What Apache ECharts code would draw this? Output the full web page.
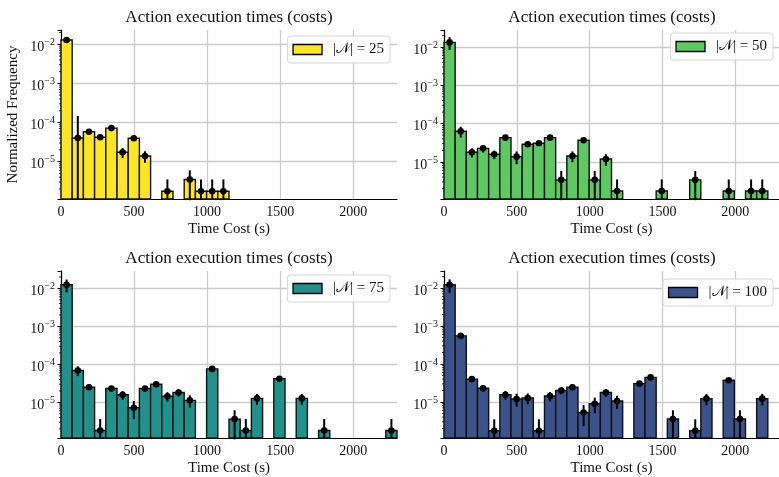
<!DOCTYPE html>
<html><head><meta charset="utf-8">
<script src="https://cdn.jsdelivr.net/npm/echarts@6/dist/echarts.min.js"></script>
<style>html,body{margin:0;padding:0;background:#fff}#c{width:779px;height:477px}</style>
</head><body><div id="c"></div>
<script>
// ---- data ----
const X_MIN = 0;
const X_MAX = 2300;
const BIN_COUNT = 30;
const xTickLabels = ['0', '500', '1000', '1500', '2000'];
const yTickLabels = ['10^-5', '10^-4', '10^-3', '10^-2'];
const titleText = 'Action execution times (costs)';
const xName = 'Time Cost (s)';
const yName = 'Normalized Frequency';
const seriesNames = ['|𝒩| = 25', '|𝒩| = 50', '|𝒩| = 75', '|𝒩| = 100'];
const seriesColors = ['#fde725', '#5ec962', '#21918c', '#3b528b'];

const values25 = [0.0129, 4.0e-5, 5.8e-5, 4.2e-5, 7.2e-5, 1.73e-5, 3.94e-5, 1.39e-5, 0, 1.75e-6,
  0, 3.5e-6, 1.75e-6, 1.75e-6, 1.75e-6, 0, 0, 0, 0, 0,
  0, 0, 0, 0, 0, 0, 0, 0, 0, 0];
const errors25 = [0.0009, 1.07e-4, 4e-6, 3e-6, 4e-6, 5e-6, 3e-6, 4.5e-6, 0, 1.75e-6,
  0, 2.47e-6, 1.75e-6, 1.75e-6, 1.75e-6, 0, 0, 0, 0, 0,
  0, 0, 0, 0, 0, 0, 0, 0, 0, 0];

const values50 = [0.0132, 6.3e-5, 1.78e-5, 2.26e-5, 1.58e-5, 4.3e-5, 1.37e-5, 2.88e-5, 3.06e-5, 4.3e-5,
  3.4e-6, 1.43e-5, 3.66e-5, 3.4e-6, 1.19e-5, 1.74e-6, 0, 0, 0, 1.74e-6,
  0, 0, 3.4e-6, 0, 0, 1.74e-6, 0, 1.74e-6, 1.74e-6, 0];
const errors50 = [0.0048, 2e-5, 4.8e-6, 5e-6, 4e-6, 3e-6, 5e-6, 4e-6, 4e-6, 3e-6,
  2.4e-6, 4.5e-6, 4e-6, 2.4e-6, 4e-6, 1.74e-6, 0, 0, 0, 1.74e-6,
  0, 0, 2.4e-6, 0, 0, 1.74e-6, 0, 1.74e-6, 1.74e-6, 0];

const values75 = [0.0125, 6.9e-5, 2.5e-5, 1.82e-6, 2.31e-5, 1.58e-5, 7.2e-6, 2.31e-5, 2.99e-5, 1.45e-5,
  1.82e-5, 1.13e-5, 0, 7.6e-5, 0, 3.63e-6, 1.82e-6, 1.27e-5, 0, 4.18e-5,
  0, 1.27e-5, 0, 1.82e-6, 0, 0, 0, 0, 0, 1.82e-6];
const errors75 = [0.0046, 2e-5, 4e-6, 1.82e-6, 4e-6, 4e-6, 3.6e-6, 4e-6, 3e-6, 4e-6,
  4e-6, 4e-6, 0, 3e-6, 0, 2.57e-6, 1.82e-6, 4e-6, 0, 2e-6,
  0, 4e-6, 0, 1.82e-6, 0, 0, 0, 0, 0, 1.82e-6];

const values100 = [0.0122, 5.5e-4, 4.0e-5, 2.3e-5, 1.75e-6, 1.55e-5, 1.2e-5, 1.27e-5, 1.75e-6, 1.43e-5,
  2.0e-5, 2.44e-5, 5.3e-6, 9.0e-6, 1.77e-5, 1.06e-5, 0, 3.03e-5, 4.43e-5, 0,
  3.55e-6, 0, 1.75e-6, 1.22e-5, 0, 3.72e-5, 3.55e-6, 0, 1.22e-5, 0];
const errors100 = [0.0047, 1.5e-5, 3e-6, 4e-6, 1.75e-6, 4e-6, 4.5e-6, 4e-6, 1.75e-6, 4e-6,
  4e-6, 4e-6, 3e-6, 4e-6, 4e-6, 4e-6, 0, 3e-6, 2e-6, 0,
  2.5e-6, 0, 1.75e-6, 4e-6, 0, 3e-6, 2.5e-6, 0, 4e-6, 0];

// y-axis limits per panel
const yMins = [1.106e-6, 1.074e-6, 1.153e-6, 1.125e-6];
const yMaxs = [0.0232, 0.0278, 0.0287, 0.0280];

const allValues = [values25, values50, values75, values100];
const allErrors = [errors25, errors50, errors75, errors100];

// ---- layout ----
const FONT = '"Liberation Serif", "DejaVu Serif", serif';
const grids = [
  {left: 61, top: 30, width: 336, height: 169},
  {left: 444, top: 30, width: 336, height: 169},
  {left: 61, top: 271, width: 336, height: 170},
  {left: 444, top: 271, width: 336, height: 170}
];
const legendPos = [
  {right: 779 - 390, top: 36},
  {right: 779 - 773, top: 33},
  {right: 779 - 390, top: 275},
  {right: 779 - 773, top: 279}
];

const binW = (X_MAX - X_MIN) / BIN_COUNT;

const option = {
  animation: false,
  backgroundColor: '#fff',
  grid: grids.map(g => Object.assign({containLabel: false}, g)),
  title: grids.map(g => ({
    text: titleText,
    left: g.left + g.width / 2 - 5,
    top: g.top - 26,
    textAlign: 'center',
    textStyle: {fontFamily: FONT, fontSize: 17, fontWeight: 'normal', color: '#111'}
  })),
  legend: grids.map((g, i) => Object.assign({
    data: [{name: seriesNames[i]}],
    icon: 'rect',
    itemWidth: 29, itemHeight: 10,
    itemStyle: {borderColor: '#000', borderWidth: 1.3},
    backgroundColor: 'rgba(255,255,255,0.85)',
    borderColor: '#d6d6d6', borderWidth: 1, borderRadius: 3,
    padding: [6, 6, 6, 5],
    selectedMode: false,
    textStyle: {fontFamily: FONT, fontSize: 15, color: '#111', padding: [0, 0, 0, 6]}
  }, legendPos[i])),
  xAxis: grids.map((g, i) => ({
    type: 'value', gridIndex: i, min: X_MIN, max: X_MAX, interval: 500,
    name: xName, nameLocation: 'middle', nameGap: 23,
    nameTextStyle: {fontFamily: FONT, fontSize: 15, color: '#111'},
    axisLine: {show: true, onZero: false, lineStyle: {color: '#000', width: 1.2}},
    axisTick: {show: false},
    axisLabel: {
      fontFamily: FONT, fontSize: 14, color: '#111', margin: 6, showMaxLabel: false,
      formatter: v => { const k = xTickLabels.indexOf(String(v)); return k >= 0 ? xTickLabels[k] : ''; }
    },
    splitLine: {show: true, showMaxLine: false, lineStyle: {color: '#cbcbcb', width: 1.3}}
  })),
  yAxis: grids.map((g, i) => ({
    type: 'log', logBase: 10, gridIndex: i, min: yMins[i], max: yMaxs[i],
    name: i === 0 ? yName : '', nameLocation: 'middle', nameGap: 40, nameRotate: 90,
    nameTextStyle: {fontFamily: FONT, fontSize: 15, color: '#111'},
    axisLine: {show: true, lineStyle: {color: '#000', width: 1.2}},
    axisTick: {show: true, length: 3.5, lineStyle: {color: '#000', width: 1}},
    minorTick: {show: false},
    axisLabel: {
      margin: 6, color: '#111',
      formatter: v => {
        const e = Math.log10(v), r = Math.round(e);
        if (Math.abs(e - r) > 1e-6) return '';
        const s = '10^' + r;
        if (yTickLabels.indexOf(s) < 0) return '';
        return '{b|10}{s|−' + (-r) + '}';
      },
      rich: {
        b: {fontFamily: FONT, fontSize: 14, color: '#111', padding: [6, 0, 0, 0]},
        s: {fontFamily: FONT, fontSize: 10, color: '#111', padding: [0, 0, 4, 0]}
      }
    },
    splitLine: {show: true, showMinLine: false, showMaxLine: false, lineStyle: {color: '#cbcbcb', width: 1.3}}
  })),
  series: []
};

allValues.forEach((vals, i) => {
  const errs = allErrors[i];
  const bars = [], errData = [];
  vals.forEach((v, k) => {
    if (v > 0) {
      const x0 = X_MIN + k * binW;
      bars.push([x0, x0 + binW, v]);
      const lo = v - errs[k] > 0 ? v - errs[k] : yMins[i];
      errData.push([x0 + binW / 2, v, lo, v + errs[k]]);
    }
  });
  const yMin = yMins[i];
  option.series.push({
    name: seriesNames[i], type: 'custom', xAxisIndex: i, yAxisIndex: i,
    itemStyle: {color: seriesColors[i], borderColor: '#000', borderWidth: 1.3},
    encode: {x: [0, 1], y: 2},
    data: bars,
    renderItem: (params, api) => {
      const p0 = api.coord([api.value(0), api.value(2)]);
      const p1 = api.coord([api.value(1), yMin]);
      return {type: 'rect',
        shape: {x: p0[0], y: p0[1], width: p1[0] - p0[0], height: p1[1] - p0[1]},
        style: {fill: seriesColors[i], stroke: '#111', lineWidth: 1.4}};
    }
  });
  option.series.push({
    name: 'err' + i, type: 'custom', xAxisIndex: i, yAxisIndex: i, z: 5,
    encode: {x: 0, y: [1, 2, 3]},
    data: errData,
    renderItem: (params, api) => {
      const c = api.coord([api.value(0), api.value(1)]);
      const lo = api.coord([api.value(0), api.value(2)]);
      const hi = api.coord([api.value(0), api.value(3)]);
      return {type: 'group', children: [
        {type: 'line', shape: {x1: lo[0], y1: lo[1], x2: hi[0], y2: hi[1]}, style: {stroke: '#000', lineWidth: 2}},
        {type: 'circle', shape: {cx: c[0], cy: c[1], r: 3.3}, style: {fill: '#000'}}
      ]};
    }
  });
  // minor ticks of the log axis (2..9 x 10^n)
  const minor = [];
  for (let n = -7; n <= -1; n++) for (let m = 2; m <= 9; m++) {
    const val = m * Math.pow(10, n);
    if (val > yMins[i] && val < yMaxs[i]) minor.push([0, val]);
  }
  option.series.push({
    name: 'minor' + i, type: 'custom', xAxisIndex: i, yAxisIndex: i, silent: true,
    encode: {x: 0, y: 1}, data: minor,
    renderItem: (params, api) => {
      const p = api.coord([X_MIN, api.value(1)]);
      return {type: 'line', shape: {x1: p[0] - 2, y1: p[1], x2: p[0], y2: p[1]}, style: {stroke: '#000', lineWidth: 0.8}};
    }
  });
});

const chart = echarts.init(document.getElementById('c'), null, {renderer: 'canvas'});
chart.setOption(option);
</script></body></html>
